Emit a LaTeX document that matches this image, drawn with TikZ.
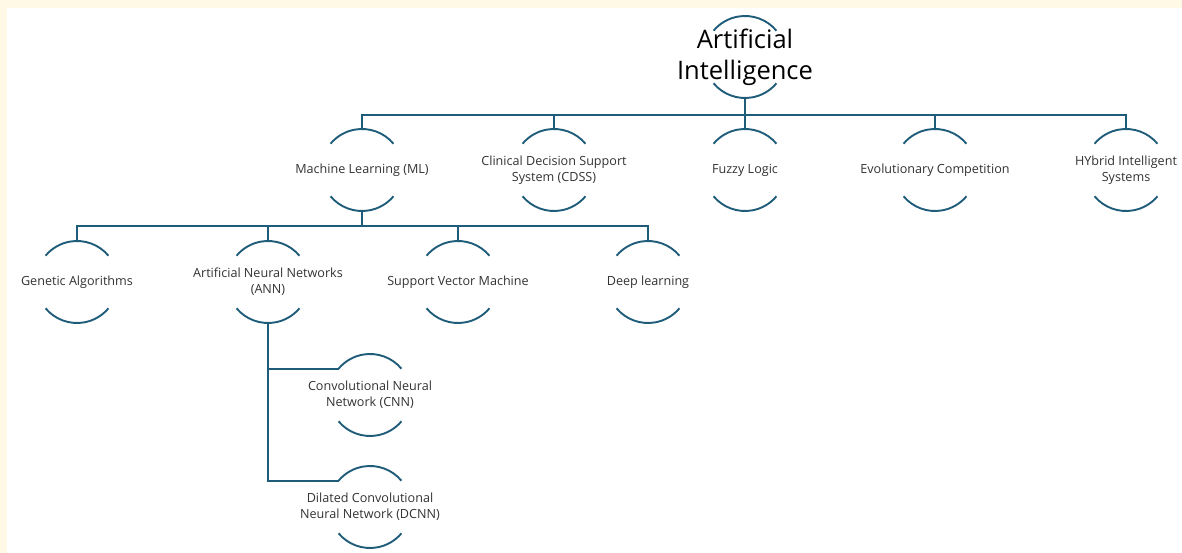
\documentclass[tikz,border=0pt]{standalone}
\usepackage{fontspec}
\setmainfont{Open Sans}
\usepackage{tikz}
\definecolor{cream}{HTML}{FFF9E6}
\definecolor{teal}{HTML}{1F5C7A}
\definecolor{txtgray}{HTML}{333333}

\begin{document}
\begin{tikzpicture}[
    x=1pt, y=-1pt,
    topic/.style={inner sep=0pt, align=center, text=txtgray, font=\fontsize{12.6}{16}\selectfont},
    rootnode/.style={inner sep=0pt, align=center, text=black, font=\fontsize{25.5}{31}\selectfont},
    conn/.style={draw=teal, line width=1.9pt}
]
% background
\fill[cream] (0,0) rectangle (1182,553);
\fill[white] (7,8) rectangle (1182,553);

\node[rootnode] (AI) at (745,57) {Artificial\\Intelligence};

\node[topic] (ML) at (362,170) {Machine Learning (ML)};
\node[topic] (CDSS) at (554,170) {Clinical Decision Support\\System (CDSS)};
\node[topic] (FL) at (745,170) {Fuzzy Logic};
\node[topic] (EC) at (935,170) {Evolutionary Competition};
\node[topic] (HIS) at (1126,170) {HYbrid Intelligent\\Systems};

\node[topic] (GA) at (77,282) {Genetic Algorithms};
\node[topic] (ANN) at (268,282) {Artificial Neural Networks\\(ANN)};
\node[topic] (SVM) at (458,282) {Support Vector Machine};
\node[topic] (DL) at (648,282) {Deep learning};

\node[topic] (CNN) at (370,395) {Convolutional Neural\\Network (CNN)};
\node[topic] (DCNN) at (370,507) {Dilated Convolutional\\Neural Network (DCNN)};

% arcs round each node
\foreach \n in {AI,ML,CDSS,FL,EC,HIS,GA,ANN,SVM,DL,CNN,DCNN} {
    \draw[conn] ([shift={(40:41pt)}]\n.center) arc[start angle=40, end angle=140, radius=41pt];
    \draw[conn] ([shift={(220:41pt)}]\n.center) arc[start angle=220, end angle=320, radius=41pt];
}

% connectors
\foreach \c in {ML,CDSS,FL,EC,HIS}
    \draw[conn] ([yshift=-41pt]AI.center) -- ++(0,-17pt) -| ([yshift=41pt]\c.center);
\foreach \c in {GA,ANN,SVM,DL}
    \draw[conn] ([yshift=-41pt]ML.center) -- ++(0,-15pt) -| ([yshift=41pt]\c.center);
\foreach \c in {CNN,DCNN}
    \draw[conn] ([yshift=-41pt]ANN.center) |- ([shift={(140:41pt)}]\c.center);
\end{tikzpicture}
\end{document}
